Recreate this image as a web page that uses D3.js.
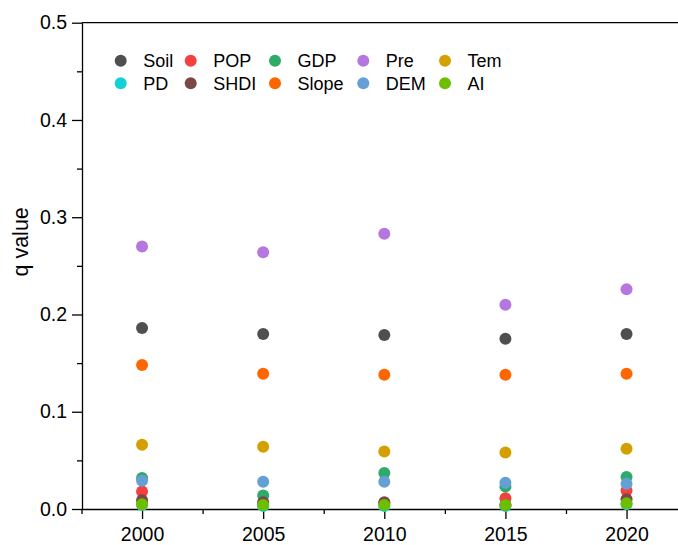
<!DOCTYPE html>
<html>
<head>
<meta charset="utf-8">
<script src="https://cdn.jsdelivr.net/npm/d3@7"></script>
<style>
  html, body { margin: 0; padding: 0; background: #fff; }
  svg { display: block; font-family: "Liberation Sans", Arial, sans-serif; }
</style>
</head>
<body>
<svg id="chart" width="678" height="545"></svg>
<script>
// Sampling years
const years = [2000, 2005, 2010, 2015, 2020];

// Factor names (legend order, row by row)
const factors = ["Soil", "POP", "GDP", "Pre", "Tem", "PD", "SHDI", "Slope", "DEM", "AI"];

// q values of each factor per year
const soil  = [0.186, 0.180, 0.179, 0.175, 0.180];
const pop   = [0.018, 0.004, 0.006, 0.011, 0.019];
const gdp   = [0.032, 0.014, 0.037, 0.023, 0.033];
const pre   = [0.270, 0.264, 0.283, 0.210, 0.226];
const tem   = [0.066, 0.064, 0.059, 0.058, 0.062];
const pd    = [0.004, 0.003, 0.003, 0.003, 0.005];
const shdi  = [0.009, 0.007, 0.007, 0.004, 0.010];
const slope = [0.148, 0.139, 0.138, 0.138, 0.139];
const dem   = [0.029, 0.028, 0.028, 0.027, 0.026];
const ai    = [0.005, 0.004, 0.004, 0.004, 0.006];

const seriesValues = [soil, pop, gdp, pre, tem, pd, shdi, slope, dem, ai];

const colors = ["#4f4f4f", "#f5403f", "#2eaa6b", "#b576e0", "#d4a000",
                "#12d0d6", "#7b4747", "#ff6600", "#64a0d6", "#6cbf00"];

// Axis ticks
const yMajorTicks = [0, 0.1, 0.2, 0.3, 0.4, 0.5];
const yMinorTicks = [0.05, 0.15, 0.25, 0.35, 0.45];
const xMinorTicks = [1997.5, 2002.5, 2007.5, 2012.5, 2017.5, 2022.5];

const svg = d3.select("#chart");
const plotLeft = 82, plotTop = 22.7, plotBottom = 509;

const x = d3.scaleLinear().domain([1997.5, 2022.5]).range([81.5, 687.1]);
const y = d3.scaleLinear().domain([0, 0.5]).range([plotBottom, plotTop]);

// Y axis: major + minor ticks pointing outward
const yAxis = d3.axisLeft(y).tickValues(yMajorTicks).tickFormat(d3.format(".1f"))
  .tickSizeInner(10).tickSizeOuter(0).tickPadding(5);
const gy = svg.append("g").attr("transform", `translate(${plotLeft},0)`).call(yAxis);
gy.selectAll(".tick text").attr("font-size", "19.5px").attr("fill", "#000");
gy.selectAll("line, path").attr("stroke", "#000").attr("stroke-width", 1.3);
const gyMinor = svg.append("g").attr("transform", `translate(${plotLeft},0)`)
  .call(d3.axisLeft(y).tickValues(yMinorTicks).tickSizeInner(5).tickSizeOuter(0).tickFormat(""));
gyMinor.select(".domain").remove();
gyMinor.selectAll("line").attr("stroke", "#000").attr("stroke-width", 1.3);

// X axis
const xAxis = d3.axisBottom(x).tickValues(years).tickFormat(d3.format("d"))
  .tickSizeInner(10).tickSizeOuter(0).tickPadding(8);
const gx = svg.append("g").attr("transform", `translate(0,${plotBottom})`).call(xAxis);
gx.selectAll(".tick text").attr("font-size", "19.5px").attr("fill", "#000");
gx.selectAll("line, path").attr("stroke", "#000").attr("stroke-width", 1.3);
const gxMinor = svg.append("g").attr("transform", `translate(0,${plotBottom})`)
  .call(d3.axisBottom(x).tickValues(xMinorTicks).tickSizeInner(5).tickSizeOuter(0).tickFormat(""));
gxMinor.select(".domain").remove();
gxMinor.selectAll("line").attr("stroke", "#000").attr("stroke-width", 1.3);

// Top frame line
svg.append("line")
  .attr("x1", plotLeft).attr("x2", x(2022.5))
  .attr("y1", y(0.5)).attr("y2", y(0.5))
  .attr("stroke", "#000").attr("stroke-width", 1.3);

// Axis title
svg.append("text")
  .attr("transform", `translate(28,${(plotTop + plotBottom) / 2 - 24}) rotate(-90)`)
  .attr("text-anchor", "middle")
  .attr("font-size", "21.5px")
  .text("q value");

// Scatter points, one series after another
factors.forEach((name, i) => {
  svg.append("g").attr("class", "series")
    .selectAll("circle")
    .data(seriesValues[i].map((v, j) => ({ year: years[j], v })))
    .join("circle")
    .attr("cx", d => x(d.year))
    .attr("cy", d => y(d.v))
    .attr("r", 6)
    .attr("fill", colors[i]);
});

// Legend: 5 columns x 2 rows
const legendCols = [120.7, 190.7, 275, 363.3, 445];
const legendRows = [60.7, 83.3];
const legend = svg.append("g");
factors.forEach((name, i) => {
  const cx = legendCols[i % 5], cy = legendRows[Math.floor(i / 5)];
  legend.append("circle").attr("cx", cx).attr("cy", cy).attr("r", 6).attr("fill", colors[i]);
  legend.append("text")
    .attr("x", cx + 22.5).attr("y", cy)
    .attr("dy", "0.35em")
    .attr("font-size", "18px")
    .text(name);
});
</script>
</body>
</html>
